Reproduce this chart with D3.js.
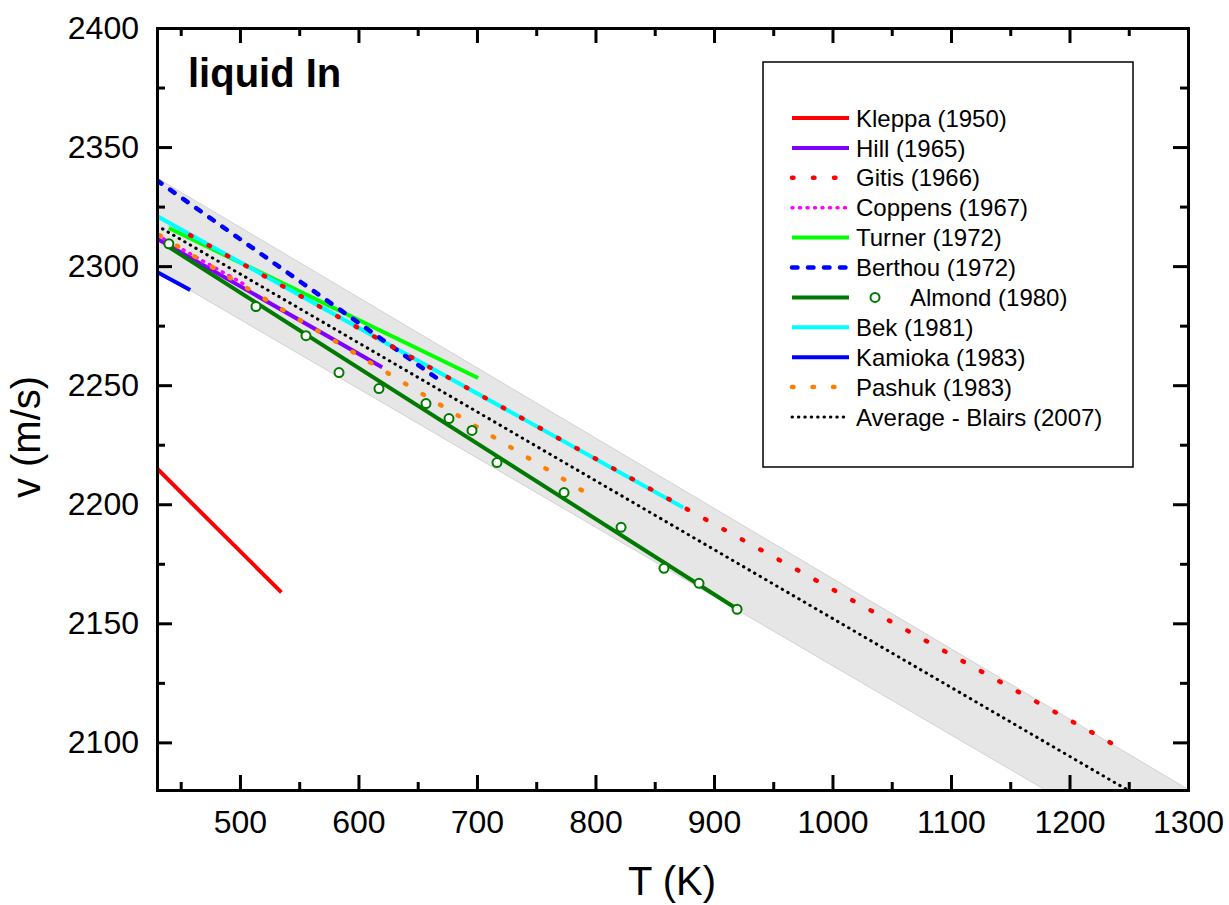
<!DOCTYPE html>
<head>
  <meta charset="utf-8">
  <script src="https://d3js.org/d3.v7.min.js"></script>
  <style>
    body { margin:0; background:#fff; }
    text { font-family: "Liberation Sans", Arial, sans-serif; fill:#000; }
  </style>
</head>
<body>
  <script>
    // data: temperature T (K) and sound velocity v (m/s)
    var xTicks = [500, 600, 700, 800, 900, 1000, 1100, 1200, 1300];
    var yTicks = [2100, 2150, 2200, 2250, 2300, 2350, 2400];
    var names = ["Kleppa (1950)", "Hill (1965)", "Gitis (1966)", "Coppens (1967)", "Turner (1972)",
                 "Berthou (1972)", "Almond (1980)", "Bek (1981)", "Kamioka (1983)", "Pashuk (1983)",
                 "Average - Blairs (2007)"];

    var kleppaT = [430, 535],   kleppaV = [2215, 2163];
    var hillT = [430, 620],     hillV = [2311.5, 2257.5];
    var gitisT = [458, 1236],   gitisV = [2313, 2099.5];
    var coppensT = [430, 505],  coppensV = [2313, 2292];
    var turnerT = [440, 701],   turnerV = [2316, 2253];
    var berthouT = [430, 666],  berthouV = [2336, 2253];
    var almondFitT = [440, 919.5], almondFitV = [2308, 2156];
    var almondT = [440, 513.5, 555.7, 583.6, 617.3, 657, 676.4, 695.8, 716.9, 773.5, 821.6, 857.8, 887.4, 919.5];
    var almondV = [2309.4, 2283, 2270.8, 2255.3, 2248.6, 2242.3, 2236, 2231, 2217.5, 2204.9, 2190.3, 2173.1, 2166.8, 2155.9];
    var bekT = [430, 874],      bekV = [2321, 2198.6];
    var kamiokaT = [430, 458],  kamiokaV = [2297.5, 2290];
    var pashukT = [432, 790],   pashukV = [2313, 2205.4];
    var averageT = [430, 1249], averageV = [2317, 2080];
    var bandT = [430, 1300], bandUpper = [2337, 2080.3], bandLower = [2298, 2045];

    // styles
    var style = {
      "Kleppa (1950)":  {c:"#ff0000", w:4, dash:null, cap:"butt"},
      "Hill (1965)":    {c:"#8000ff", w:4, dash:null, cap:"butt"},
      "Gitis (1966)":   {c:"#ff0000", w:4.5, dash:"1.5,19.5", cap:"round"},
      "Coppens (1967)": {c:"#ff00ff", w:3.5, dash:"1,6.5", cap:"round"},
      "Turner (1972)":  {c:"#00ff00", w:4, dash:null, cap:"butt"},
      "Berthou (1972)": {c:"#0000ff", w:4.5, dash:"5.5,10.5", cap:"round"},
      "Almond (1980)":  {c:"#007a00", w:4, dash:null, cap:"butt"},
      "Bek (1981)":     {c:"#00ffff", w:4, dash:null, cap:"butt"},
      "Kamioka (1983)": {c:"#0000ff", w:4, dash:null, cap:"butt"},
      "Pashuk (1983)":  {c:"#ff8000", w:4.5, dash:"1.5,19", cap:"round"},
      "Average - Blairs (2007)": {c:"#000000", w:3, dash:"0.5,5.9", cap:"round"}
    };

    var svg = d3.select("body").append("svg")
      .attr("width", 1229)
      .attr("height", 905);

    var x = d3.scaleLinear().domain([430, 1300]).range([157, 1188]);
    var y = d3.scaleLinear().domain([2080, 2400]).range([790, 28]);

    svg.append("clipPath").attr("id", "plot")
      .append("rect").attr("x", 157).attr("y", 28).attr("width", 1031).attr("height", 762);

    // grey band
    var band = bandT.map(function(t, i) { return {t: t, lo: bandLower[i], hi: bandUpper[i]}; });
    var area = d3.area()
      .x(function(d) { return x(d.t); })
      .y0(function(d) { return y(d.lo); })
      .y1(function(d) { return y(d.hi); });
    svg.append("path")
      .datum(band)
      .attr("clip-path", "url(#plot)")
      .attr("d", area)
      .attr("fill", "#e6e6e6")
      .attr("stroke", "#d2d2d2")
      .attr("stroke-width", 1);

    var line = d3.line()
      .x(function(d) { return x(d[0]); })
      .y(function(d) { return y(d[1]); });

    function pts(ts, vs) { return ts.map(function(t, i) { return [t, vs[i]]; }); }

    var series = [
      ["Kleppa (1950)", pts(kleppaT, kleppaV)],
      ["Hill (1965)", pts(hillT, hillV)],
      ["Coppens (1967)", pts(coppensT, coppensV)],
      ["Turner (1972)", pts(turnerT, turnerV)],
      ["Bek (1981)", pts(bekT, bekV)],
      ["Berthou (1972)", pts(berthouT, berthouV)],
      ["Kamioka (1983)", pts(kamiokaT, kamiokaV)],
      ["Pashuk (1983)", pts(pashukT, pashukV)],
      ["Almond (1980)", pts(almondFitT, almondFitV)],
      ["Average - Blairs (2007)", pts(averageT, averageV)],
      ["Gitis (1966)", pts(gitisT, gitisV)]
    ];

    svg.append("g").attr("clip-path", "url(#plot)")
      .selectAll("path").data(series).enter()
      .append("path")
      .attr("d", function(d) { return line(d[1]); })
      .attr("fill", "none")
      .attr("stroke", function(d) { return style[d[0]].c; })
      .attr("stroke-width", function(d) { return style[d[0]].w; })
      .attr("stroke-linecap", function(d) { return style[d[0]].cap; })
      .attr("stroke-dasharray", function(d) { return style[d[0]].dash; });

    svg.append("g").selectAll("circle").data(pts(almondT, almondV)).enter()
      .append("circle")
      .attr("cx", function(d) { return x(d[0]); })
      .attr("cy", function(d) { return y(d[1]); })
      .attr("r", 4.5)
      .attr("fill", "#fff")
      .attr("stroke", style["Almond (1980)"].c)
      .attr("stroke-width", 2);

    // axes, ticks inside on all four sides
    var xMinor = d3.range(450, 1300, 100);
    var yMinor = d3.range(2125, 2400, 50);

    function styleAxis(g) {
      g.attr("font-size", 32).attr("font-family", "Liberation Sans, Arial, sans-serif");
      g.select(".domain").attr("stroke-width", 3).attr("stroke-linecap", "square");
      g.selectAll(".tick line").attr("stroke-width", 3);
    }
    function minor(g) {
      g.select(".domain").remove();
      g.selectAll(".tick line").attr("stroke-width", 3);
    }

    svg.append("g").attr("transform", "translate(0,790)")
      .call(d3.axisBottom(x).tickValues(xTicks).tickSize(-15).tickSizeOuter(0).tickPadding(20).tickFormat(d3.format("d")))
      .call(styleAxis);
    svg.append("g").attr("transform", "translate(0,790)")
      .call(d3.axisBottom(x).tickValues(xMinor).tickSize(-8).tickFormat(""))
      .call(minor);
    svg.append("g").attr("transform", "translate(0,28)")
      .call(d3.axisTop(x).tickValues(xTicks).tickSize(-15).tickSizeOuter(0).tickFormat(""))
      .call(styleAxis);
    svg.append("g").attr("transform", "translate(0,28)")
      .call(d3.axisTop(x).tickValues(xMinor).tickSize(-8).tickFormat(""))
      .call(minor);

    svg.append("g").attr("transform", "translate(157,0)")
      .call(d3.axisLeft(y).tickValues(yTicks).tickSize(-15).tickSizeOuter(0).tickPadding(18).tickFormat(d3.format("d")))
      .call(styleAxis);
    svg.append("g").attr("transform", "translate(157,0)")
      .call(d3.axisLeft(y).tickValues(yMinor).tickSize(-8).tickFormat(""))
      .call(minor);
    svg.append("g").attr("transform", "translate(1188,0)")
      .call(d3.axisRight(y).tickValues(yTicks).tickSize(-15).tickSizeOuter(0).tickFormat(""))
      .call(styleAxis);
    svg.append("g").attr("transform", "translate(1188,0)")
      .call(d3.axisRight(y).tickValues(yMinor).tickSize(-8).tickFormat(""))
      .call(minor);

    // axis titles and label
    svg.append("text")
      .attr("x", 672).attr("y", 895)
      .attr("text-anchor", "middle")
      .attr("font-size", 40)
      .text("T (K)");
    svg.append("text")
      .attr("transform", "translate(40,437) rotate(-90)")
      .attr("text-anchor", "middle")
      .attr("font-size", 40)
      .text("v (m/s)");
    svg.append("text")
      .attr("x", 188).attr("y", 87)
      .attr("font-size", 40)
      .attr("font-weight", "bold")
      .text("liquid In");

    // legend
    var legend = svg.append("g");
    legend.append("rect")
      .attr("x", 763).attr("y", 62)
      .attr("width", 370).attr("height", 405)
      .attr("fill", "#fff")
      .attr("stroke", "#000")
      .attr("stroke-width", 1.5);

    var rows = legend.selectAll("g.row").data(names).enter()
      .append("g")
      .attr("class", "row")
      .attr("transform", function(d, i) { return "translate(0," + (118 + i * 29.9) + ")"; });

    rows.append("line")
      .attr("x1", 792).attr("x2", 849)
      .attr("stroke", function(d) { return style[d].c; })
      .attr("stroke-width", function(d) { return style[d].w; })
      .attr("stroke-linecap", function(d) { return style[d].cap; })
      .attr("stroke-dasharray", function(d) { return style[d].dash; });

    rows.filter(function(d) { return d === "Almond (1980)"; })
      .append("circle")
      .attr("cx", 875).attr("cy", 0).attr("r", 4.5)
      .attr("fill", "#fff")
      .attr("stroke", style["Almond (1980)"].c)
      .attr("stroke-width", 2);

    rows.append("text")
      .attr("x", function(d) { return d === "Almond (1980)" ? 910 : 856; })
      .attr("y", 8.6)
      .attr("font-size", 24)
      .text(function(d) { return d; });
  </script>
</body>
